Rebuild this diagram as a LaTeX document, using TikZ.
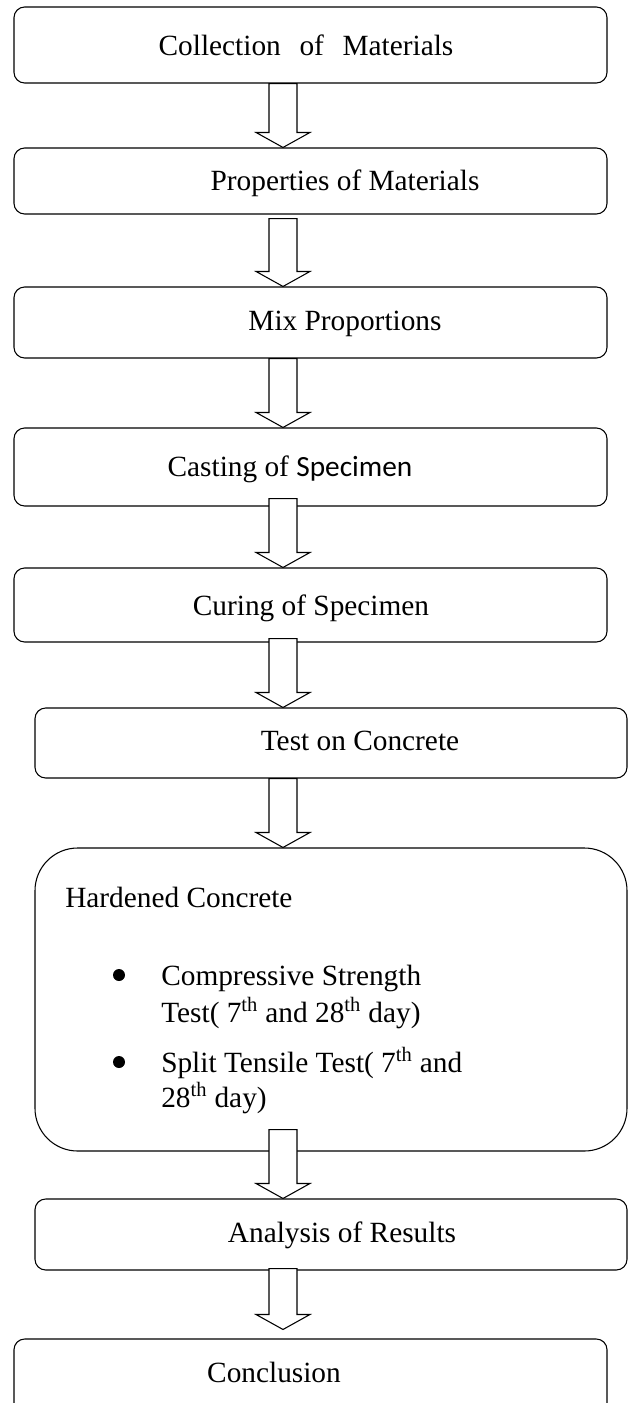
\documentclass[tikz,border=0pt]{standalone}
\usepackage{fontspec}
\setmainfont{Liberation Serif}
\newfontfamily\specfont{Carlito}
\usepackage{tikz}
\usetikzlibrary{calc}

% hollow block arrow from the bottom of #1 to the top of #2
% #3: shift of the shaft top, #4: gap left above the target box
\newcommand{\flowarrow}[4]{%
	\draw[blockarrow] let \p1=(#1.south -| axis), \p2=(#2.north -| axis) in
		(\x1-10.5pt,\y1+#3) -- (\x1-10.5pt,\y2+#4+11.25pt) -- (\x1-20.25pt,\y2+#4+11.25pt)
		-- (\x2,\y2+#4) -- (\x1+20.25pt,\y2+#4+11.25pt) -- (\x1+10.5pt,\y2+#4+11.25pt)
		-- (\x1+10.5pt,\y1+#3) -- cycle;}

\begin{document}
\begin{tikzpicture}[x=0.75pt, y=-0.75pt,
		stepbox/.style={draw, line width=0.8pt, rounded corners=8pt, minimum width=444.75pt, inner sep=0pt},
		widebox/.style={stepbox, minimum width=444pt},
		boxtext/.style={font=\fontsize{22}{27.5}\selectfont, inner sep=0pt, anchor=base},
		itemtext/.style={boxtext, anchor=base west},
		dot/.style={circle, fill, inner sep=0pt, minimum size=9pt},
		blockarrow/.style={draw, fill=white, line width=0.8pt, line join=miter}]
	\useasboundingbox[fill=white] (0,0) rectangle (632,1403);
	\coordinate (axis) at (283,0);

	% boxes
	\node[stepbox, minimum height=57pt] (collect) at (310.5,45) {};
	\node[stepbox, minimum height=49.5pt] (props) at (310.5,181) {};
	\node[stepbox, minimum height=53.25pt] (mix) at (310.5,322.5) {};
	\node[stepbox, minimum height=58.5pt] (cast) at (310.5,467) {};
	\node[stepbox, minimum height=55.5pt] (cure) at (310.5,605) {};
	\node[widebox, minimum height=52.5pt] (test) at (331,743) {};
	\node[widebox, minimum height=227.25pt, rounded corners=32pt] (hard) at (331,999.5) {};
	\node[widebox, minimum height=53.25pt] (analysis) at (331,1234.5) {};
	\node[stepbox, minimum height=61.5pt] (concl) at (310.5,1380) {};

	% texts
	\node[boxtext] (collect-t) at (306,55) {Collection\hspace{14pt}of\hspace{14pt}Materials};
	\node[boxtext] (props-t) at (345,190) {Properties of Materials};
	\node[boxtext] (mix-t) at (345,330) {Mix Proportions};
	\node[boxtext] (cast-t) at (290,476) {Casting of {\specfont Specimen}};
	\node[boxtext] (cure-t) at (311,615) {Curing of Specimen};
	\node[boxtext] (test-t) at (360,750) {Test on Concrete};
	\node[itemtext] (hard-t) at (65,907) {Hardened Concrete};
	\node[dot] (dot1) at (119,975) {};
	\node[itemtext] (comp-a) at (161,985) {Compressive Strength};
	\node[itemtext] (comp-b) at (161,1022) {Test( 7\textsuperscript{th} and 28\textsuperscript{th} day)};
	\node[dot] (dot2) at (119,1062) {};
	\node[itemtext] (split-a) at (161,1072) {Split Tensile Test( 7\textsuperscript{th} and};
	\node[itemtext] (split-b) at (161,1107) {28\textsuperscript{th} day)};
	\node[boxtext] (analysis-t) at (342,1242) {Analysis of Results};
	\node[boxtext] (concl-t) at (274,1382) {Conclusion};

	% arrows
	\flowarrow{collect}{props}{0pt}{0pt}
	\flowarrow{props}{mix}{-3pt}{0pt}
	\flowarrow{mix}{cast}{0pt}{0pt}
	\flowarrow{cast}{cure}{6pt}{0pt}
	\flowarrow{cure}{test}{3pt}{0pt}
	\flowarrow{test}{hard}{0pt}{0pt}
	\flowarrow{hard}{analysis}{16.5pt}{0pt}
	\flowarrow{analysis}{concl}{1.5pt}{6.75pt}
\end{tikzpicture}
\end{document}
